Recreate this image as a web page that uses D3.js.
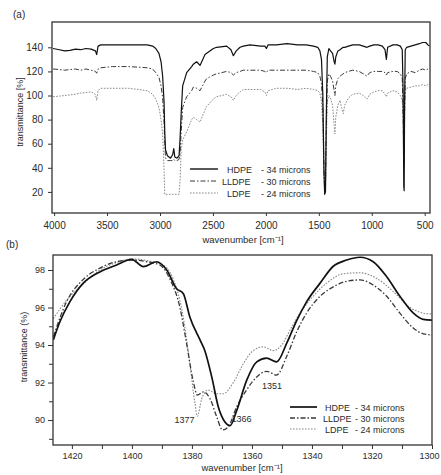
<!DOCTYPE html>
<html>
<head>
<meta charset="utf-8">
<script src="https://cdn.jsdelivr.net/npm/d3@7"></script>
<style>
body { margin: 0; background: #fff; }
svg text { font-family: "Liberation Sans", Arial, sans-serif; fill: #2b2b2b; }
</style>
</head>
<body>
<script>
// ---- data, panel (a): full spectra ----
var wnA = [4010, 3950, 3900, 3850, 3800, 3750, 3700, 3650, 3610, 3598, 3585, 3560, 3450, 3300, 3200, 3120,
    3070, 3040, 3010, 2990, 2975, 2962, 2955, 2948, 2930, 2900, 2880, 2870, 2860, 2840, 2820, 2810,
    2800, 2786, 2748, 2701, 2685, 2654, 2622, 2575, 2559, 2496, 2465, 2370, 2330, 2307, 2280, 2244,
    2213, 2150, 2050, 2010, 1995, 1980, 1900, 1800, 1700, 1620, 1550, 1510, 1490, 1475, 1462, 1452,
    1445, 1437, 1430, 1420, 1405, 1390, 1370, 1355, 1348, 1340, 1320, 1300, 1285, 1270, 1255, 1220,
    1180, 1120, 1080, 1045, 1020, 980, 940, 900, 875, 862, 850, 800, 760, 730, 712, 703,
    698, 694, 690, 684, 670, 630, 590, 550, 520, 490, 470, 455]
var hdpeA = [139, 138, 137, 137.5, 138.5, 138, 139, 138.5, 137, 134, 141, 142, 142, 142, 142, 142,
    141, 139, 135, 128, 116, 95, 70, 55, 50, 48, 51, 56, 49, 48, 50, 65,
    85, 108, 119, 124, 126, 128, 125, 134, 135, 139, 140, 141, 138, 133, 137, 140,
    141, 142, 141, 141, 139, 142, 142, 143, 142, 142, 141, 140, 137, 130, 100, 40,
    18, 20, 80, 132, 139, 137, 135, 128, 126, 132, 137, 138, 139, 140, 140, 141,
    142, 142, 141, 140, 141, 142, 142, 141, 138, 130, 140, 142, 142, 141, 138, 100,
    25, 21, 90, 138, 140, 141, 142, 143, 144, 144, 142, 141]
var lldpeA = [122, 121.5, 121, 121.5, 122, 121, 122, 121, 120, 118.5, 122, 123, 124, 124, 123.5, 123,
    122, 119, 115, 108, 98, 78, 60, 48, 46, 46, 46, 47, 46, 46, 47, 52,
    70, 90, 99, 104, 107, 106, 104, 112, 114, 117, 118, 120, 119, 117, 119, 120,
    121, 121, 121, 120, 119, 121, 121, 121, 121, 121, 120, 119, 116, 110, 90, 40,
    22, 25, 70, 112, 118, 116, 112, 104, 100, 108, 114, 116, 117, 118, 119, 120,
    121, 120, 118, 116, 119, 120, 120, 120, 119, 117, 119, 120, 120, 118, 114, 80,
    40, 45, 85, 114, 118, 120, 119, 121, 122, 121, 122, 121]
var ldpeA = [99, 99.5, 100, 100.5, 101, 102, 102.5, 103, 101, 96, 104, 106, 106, 106, 105, 104,
    101, 97, 90, 80, 68, 40, 18, 18, 18, 18, 18, 18, 18, 18, 18, 30,
    55, 63, 70, 80, 82, 80, 78, 88, 91, 97, 99, 101, 99, 96, 100, 103,
    105, 105, 105, 103, 100, 104, 106, 106, 105, 106, 105, 104, 102, 95, 75, 35,
    20, 22, 60, 95, 100, 98, 92, 75, 68, 82, 92, 96, 90, 85, 92, 98,
    101, 102, 100, 97, 101, 103, 104, 104, 101, 99, 102, 104, 103, 100, 96, 85,
    60, 65, 95, 104, 106, 107, 108, 108, 109, 108, 109, 108]

// ---- data, panel (b): 1426-1300 cm-1 region ----
var wnHdpeB = [1426.2, 1424, 1420.7, 1416.2, 1410.7, 1405.1, 1400.1, 1396.2, 1391.8, 1388.4, 1385.1, 1382.9,
    1380.7, 1377.3, 1375.7, 1373.4, 1371.2, 1369, 1367.3, 1365.1, 1361.8, 1358.4, 1355.1, 1351.8,
    1348.4, 1345.1, 1341.8, 1337.3, 1332.9, 1328.4, 1324, 1319.6, 1315.1, 1310.7, 1306.2, 1302.9, 1299.6]
var hdpeB = [94.27, 95.24, 96.3, 97.3, 97.9, 98.27, 98.57, 98.18, 98.44, 98.0, 97.0, 96.75,
    95.5, 94.27, 93.7, 92.3, 90.7, 89.9, 89.7, 90.5, 92.1, 93.1, 93.3, 93.1,
    94.1, 95.3, 96.3, 97.3, 98.2, 98.53, 98.68, 98.44, 97.64, 96.6, 95.7, 95.37, 95.33]
var wnLldpeB = [1426.2, 1421.8, 1416.2, 1410.7, 1405.1, 1399.6, 1395.1, 1390.7, 1387.3, 1384, 1381.8, 1379.6,
    1378.2, 1376.2, 1374, 1371.8, 1369.8, 1367.9, 1365.1, 1361.8, 1358.4, 1355.1, 1351.8, 1348.4,
    1345.1, 1341.8, 1337.3, 1332.9, 1328.4, 1324, 1319.6, 1315.1, 1310.7, 1306.2, 1302.9, 1299.6]
var lldpeB = [94.44, 96.3, 97.5, 98.1, 98.44, 98.53, 98.44, 98.27, 97.5, 96.0, 94.1, 92.1,
    91.33, 91.5, 91.15, 90.2, 89.47, 89.64, 90.7, 91.6, 92.3, 92.6, 92.4, 93.4,
    94.7, 95.7, 96.6, 97.1, 97.4, 97.47, 97.2, 96.6, 95.7, 94.9, 94.6, 94.53]
var wnLdpeB = [1426.2, 1421.7, 1416, 1410.7, 1405, 1400, 1395, 1390, 1386.2, 1382.9, 1380.7, 1379,
    1378.2, 1376.8, 1374.6, 1371.8, 1369.6, 1366.2, 1362.9, 1359.6, 1356.2, 1352.9, 1350.1, 1347.3,
    1344, 1339.6, 1335.1, 1329.6, 1324, 1318.4, 1312.9, 1307.3, 1302.9, 1299.6]
var ldpeB = [95.4, 96.4, 97.3, 98.0, 98.4, 98.6, 98.5, 98.3, 97.5, 95.5, 93.0, 90.9,
    90.2, 91.1, 91.6, 91.4, 91.4, 92.0, 93.0, 93.7, 93.9, 93.7, 94.0, 94.8,
    95.7, 96.6, 97.3, 97.8, 97.85, 97.55, 96.85, 96.0, 95.7, 95.65]

// legend text and tick values
var names = ['HDPE', 'LLDPE', 'LDPE']
var thickness = ['- 34 microns', '- 30 microns', '- 24 microns']
var xTicksA = [4000, 3500, 3000, 2500, 2000, 1500, 1000, 500]
var yTicksA = [20, 40, 60, 80, 100, 120, 140]
var xTicksB = [1420, 1400, 1380, 1360, 1340, 1320, 1300]
var xMinorB = [1410, 1390, 1370, 1350, 1330, 1310]
var yTicksB = [90, 92, 94, 96, 98]
var yMinorB = [89, 91, 93, 95, 97]
var peaks = [{t: '1377', w: 1382.5, v: 89.85}, {t: '1366', w: 1363.5, v: 89.9}, {t: '1351', w: 1353.3, v: 91.65}]

// line styles per series
var styles = [
    {color: '#111', dash: null, wa: 1.2, wb: 1.7},
    {color: '#3a3a3a', dash: '5,2,1.5,2', wa: 1, wb: 1.3},
    {color: '#8a8a8a', dash: '1.6,1.4', wa: 1, wb: 1.1}
]
// legend name offsets (LLDPE sits a bit further left in the original)
var legNameX = [0, -5, 0]

var svg = d3.select('body')
    .append('svg')
    .attr('width', 441)
    .attr('height', 475)

function styleAxis(g, size) {
    g.select('.domain').remove()
    g.selectAll('line').attr('stroke', '#333')
    g.selectAll('text').style('font-size', size + 'px').attr('fill', '#2b2b2b')
}

// ================= panel (a) =================
var xA = d3.scaleLinear().domain([4020, 450]).range([52, 430])
var yA = d3.scaleLinear().domain([2.5, 161]).range([213, 22])

svg.append('clipPath').attr('id', 'clipA')
    .append('rect').attr('x', 52).attr('y', 22).attr('width', 378).attr('height', 191)

var gA = svg.append('g')

var seriesA = [hdpeA, lldpeA, ldpeA]
// draw light ones first so HDPE is on top
;[2, 1, 0].forEach(function(k) {
    var line = d3.line()
        .x((d, i) => xA(wnA[i]))
        .y(d => yA(d))
    gA.append('path')
        .attr('clip-path', 'url(#clipA)')
        .attr('d', line(seriesA[k]))
        .attr('fill', 'none')
        .attr('stroke', styles[k].color)
        .attr('stroke-width', styles[k].wa)
        .attr('stroke-dasharray', styles[k].dash)
        .attr('stroke-linejoin', 'round')
})

gA.append('g')
    .attr('transform', 'translate(0,213)')
    .call(d3.axisBottom(xA).tickValues(xTicksA).tickSize(3).tickSizeOuter(0).tickPadding(6).tickFormat(d3.format('d')))
    .call(g => styleAxis(g, 10))

gA.append('g')
    .attr('transform', 'translate(52,0)')
    .call(d3.axisLeft(yA).tickValues(yTicksA).tickSize(4).tickSizeOuter(0).tickPadding(5))
    .call(g => styleAxis(g, 10))

gA.append('rect')
    .attr('x', 52).attr('y', 22).attr('width', 378).attr('height', 191)
    .attr('fill', 'none').attr('stroke', '#333').attr('stroke-width', 1.3)

gA.append('text').text('(a)').attr('x', 13).attr('y', 18).style('font-size', '10px')

gA.append('text')
    .attr('x', 243).attr('y', 243)
    .attr('text-anchor', 'middle')
    .style('font-size', '9.5px')
    .text('wavenumber [cm\u207B\u00B9]')

gA.append('text')
    .attr('transform', 'translate(22.5,112) rotate(-90)')
    .attr('text-anchor', 'middle')
    .style('font-size', '9px')
    .text('transmittance [%]')

// legend (a)
var legA = gA.append('g')
names.forEach(function(n, k) {
    var y = 169 + k * 12
    legA.append('line')
        .attr('x1', 190).attr('x2', 218).attr('y1', y).attr('y2', y)
        .attr('stroke', styles[k].color)
        .attr('stroke-width', styles[k].wa + 0.2)
        .attr('stroke-dasharray', styles[k].dash)
    legA.append('text').text(n).attr('x', 227 + legNameX[k]).attr('y', y + 3.5).style('font-size', '9px')
    legA.append('text').text(thickness[k]).attr('x', 261).attr('y', y + 3.5).style('font-size', '9px')
})

// ================= panel (b) =================
var xB = d3.scaleLinear().domain([1426.3, 1300]).range([53, 432])
var yB = d3.scaleLinear().domain([88.67, 98.8]).range([445, 255])

svg.append('clipPath').attr('id', 'clipB')
    .append('rect').attr('x', 53).attr('y', 255).attr('width', 379).attr('height', 190)

var gB = svg.append('g')

var seriesB = [[wnHdpeB, hdpeB], [wnLldpeB, lldpeB], [wnLdpeB, ldpeB]]
;[2, 1, 0].forEach(function(k) {
    var wn = seriesB[k][0]
    var line = d3.line()
        .x((d, i) => xB(wn[i]))
        .y(d => yB(d))
        .curve(d3.curveMonotoneX)
    gB.append('path')
        .attr('clip-path', 'url(#clipB)')
        .attr('d', line(seriesB[k][1]))
        .attr('fill', 'none')
        .attr('stroke', styles[k].color)
        .attr('stroke-width', styles[k].wb)
        .attr('stroke-dasharray', styles[k].dash)
})

gB.append('g')
    .attr('transform', 'translate(0,445)')
    .call(d3.axisBottom(xB).tickValues(xTicksB).tickSize(4).tickSizeOuter(0).tickPadding(4).tickFormat(d3.format('d')))
    .call(g => styleAxis(g, 9))
    .call(g => g.selectAll('text').filter(d => d === 1300).attr('dx', '-3'))

gB.append('g')
    .attr('transform', 'translate(0,445)')
    .call(d3.axisBottom(xB).tickValues(xMinorB).tickSize(4).tickSizeOuter(0).tickFormat(''))
    .call(g => styleAxis(g, 9))

gB.append('g')
    .attr('transform', 'translate(53,0)')
    .call(d3.axisLeft(yB).tickValues(yTicksB).tickSize(5).tickSizeOuter(0).tickPadding(3))
    .call(g => styleAxis(g, 9))

gB.append('g')
    .attr('transform', 'translate(53,0)')
    .call(d3.axisLeft(yB).tickValues(yMinorB).tickSize(4).tickSizeOuter(0).tickFormat(''))
    .call(g => styleAxis(g, 9))

gB.append('rect')
    .attr('x', 53).attr('y', 255).attr('width', 379).attr('height', 190)
    .attr('fill', 'none').attr('stroke', '#333').attr('stroke-width', 1.3)

gB.append('text').text('(b)').attr('x', 6).attr('y', 248).style('font-size', '10px')

gB.append('text')
    .attr('x', 242).attr('y', 471)
    .attr('text-anchor', 'middle')
    .style('font-size', '9.5px')
    .text('wavenumber [cm\u207B\u00B9]')

gB.append('text')
    .attr('transform', 'translate(27,347) rotate(-90)')
    .attr('text-anchor', 'middle')
    .style('font-size', '9px')
    .text('transmittance (%)')

// peak labels
gB.selectAll('.peak')
    .data(peaks)
    .enter()
    .append('text')
    .attr('x', d => xB(d.w))
    .attr('y', d => yB(d.v))
    .attr('text-anchor', 'middle')
    .style('font-size', '9px')
    .text(d => d.t)

// legend (b)
var legB = gB.append('g')
names.forEach(function(n, k) {
    var y = 407 + k * 11
    legB.append('line')
        .attr('x1', 290).attr('x2', 317).attr('y1', y).attr('y2', y)
        .attr('stroke', styles[k].color)
        .attr('stroke-width', styles[k].wb)
        .attr('stroke-dasharray', styles[k].dash)
    legB.append('text').text(n).attr('x', 325 + (k === 1 ? -2 : 0)).attr('y', y + 3.5).style('font-size', '9px')
    legB.append('text').text(thickness[k]).attr('x', 355).attr('y', y + 3.5).style('font-size', '9px')
})
</script>
</body>
</html>
